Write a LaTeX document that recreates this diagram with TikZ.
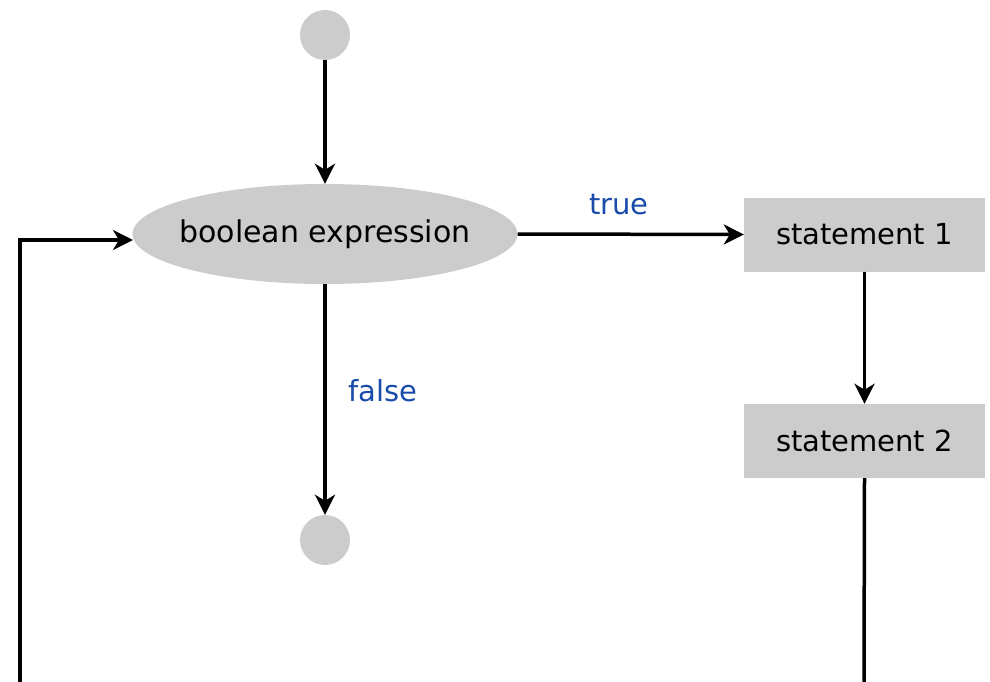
\documentclass[tikz,border=0pt]{standalone}
\usepackage{fontspec}
\setmainfont{DejaVu Sans}
\newfontfamily\labelfont{DejaVu Sans}
\usetikzlibrary{shapes.geometric,arrows.meta,calc}
\definecolor{boxgray}{RGB}{204,204,204}
\definecolor{lblblue}{RGB}{25,75,170}
\tikzset{
  flow/.style={line width=3.5pt,-{Stealth[length=20pt,width=20pt,inset=6pt]}},
  plain/.style={line width=3.5pt},
  dot/.style={circle,fill=boxgray,minimum size=50pt,inner sep=0pt},
  cond/.style={ellipse,fill=boxgray,minimum width=385pt,minimum height=100pt,inner sep=0pt,font=\fontsize{30}{34}\selectfont},
  stmt/.style={rectangle,fill=boxgray,minimum width=241pt,minimum height=74pt,inner sep=0pt,font=\fontsize{29}{33}\selectfont},
  lbl/.style={text=lblblue,font=\labelfont\fontsize{29}{33}\selectfont,inner sep=0pt}
}
\begin{document}
\begin{tikzpicture}[x=1pt,y=-1pt]
\useasboundingbox (0,0) rectangle (990,682);
\node[dot] (start) at (325,35) {};
\node[cond] (bx) at (325,234) {\makebox[0pt]{boolean expression}};
\node[stmt] (s1) at (864.5,234.5) {statement 1};
\node[stmt] (s2) at (864.5,441) {statement 2};
\node[dot] (stop) at (325,540) {};
\coordinate (rb) at (864,684);
\coordinate (lb) at (20,684);
\coordinate (lin) at (133,240);
\draw[flow] (start) -- (bx);
\draw[flow] (bx.east) -- (s1.west);
\draw[flow] (bx) -- (stop);
\draw[flow] (s1) -- (s2);
\draw[plain] (s2.south) -- (rb);
\draw[flow] (lb) |- (lin);
\node[lbl] (tl) at (619,205) {true};
\node[lbl] (fl) at (383,391) {false};
\end{tikzpicture}
\end{document}
